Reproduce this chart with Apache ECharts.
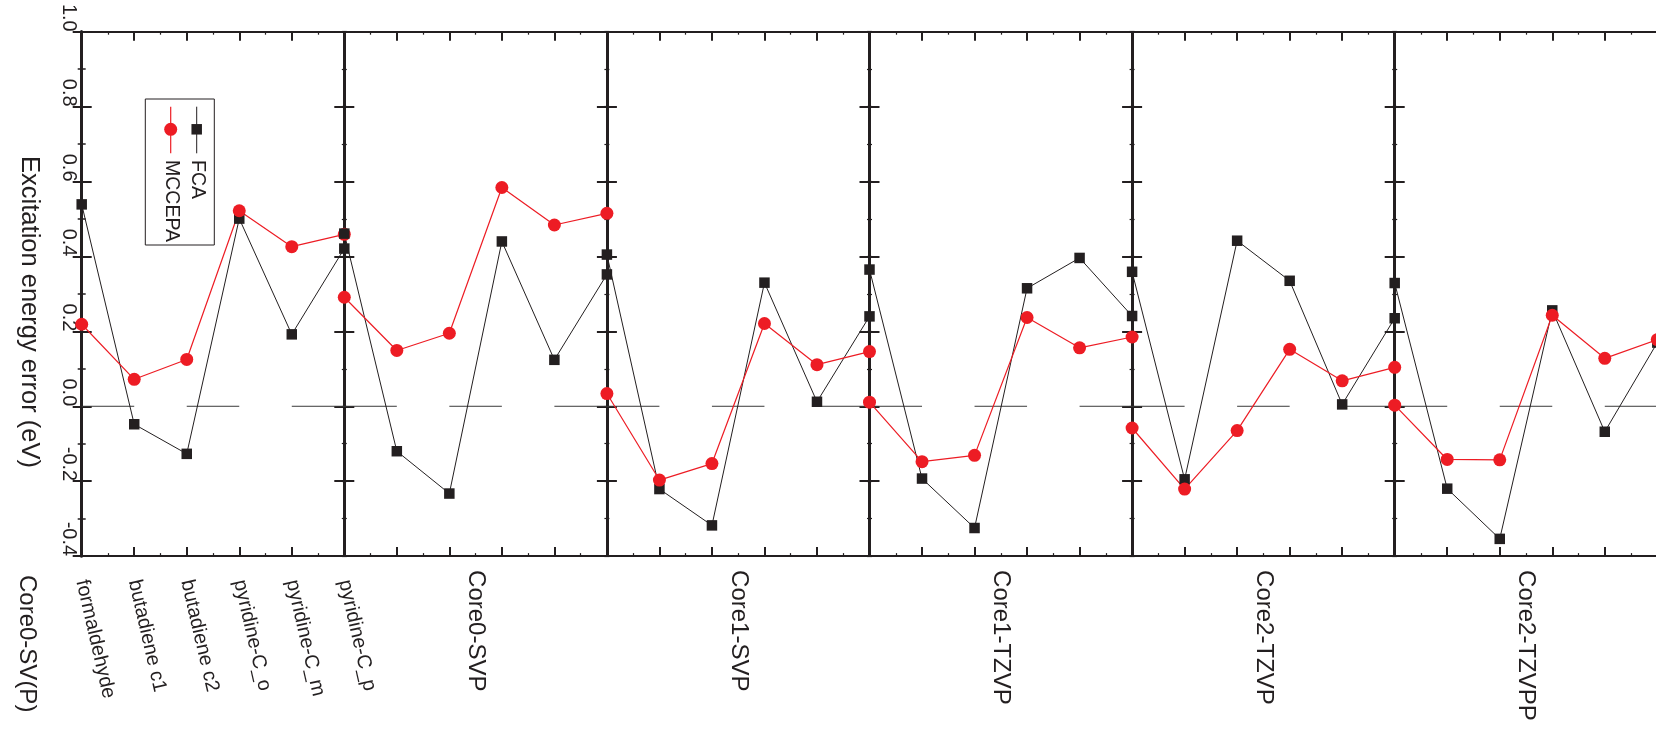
<!DOCTYPE html>
<html><head><meta charset="utf-8">
<script src="https://cdn.jsdelivr.net/npm/echarts@6/dist/echarts.min.js"></script>
<style>html,body{margin:0;padding:0;background:#fff}#c{width:1656px;height:736px}</style>
</head><body><div id="c"></div><script>
// ---------- data ----------
const molecules = ['formaldehyde', 'butadiene c1', 'butadiene c2', 'pyridine-C_o', 'pyridine-C_m', 'pyridine-C_p'];
const basisSets = ['Core0-SV(P)', 'Core0-SVP', 'Core1-SVP', 'Core1-TZVP', 'Core2-TZVP', 'Core2-TZVPP'];
const seriesNames = ['FCA', 'MCCEPA'];
const yTitle = 'Excitation energy error (eV)';

// FCA errors (eV), one array per basis set, ordered as molecules
const fcaCore0SVparP = [0.539, -0.048, -0.127, 0.501, 0.192, 0.421];
const fcaCore0SVP    = [0.461, -0.120, -0.233, 0.440, 0.124, 0.352];
const fcaCore1SVP    = [0.405, -0.221, -0.318, 0.330, 0.012, 0.240];
const fcaCore1TZVP   = [0.365, -0.193, -0.325, 0.315, 0.396, 0.241];
const fcaCore2TZVP   = [0.359, -0.195, 0.442, 0.335, 0.005, 0.235];
const fcaCore2TZVPP  = [0.329, -0.220, -0.354, 0.256, -0.068, 0.170];

// MCCEPA errors (eV)
const mccCore0SVparP = [0.219, 0.072, 0.125, 0.522, 0.426, 0.459];
const mccCore0SVP    = [0.291, 0.149, 0.195, 0.584, 0.484, 0.515];
const mccCore1SVP    = [0.034, -0.197, -0.153, 0.221, 0.111, 0.146];
const mccCore1TZVP   = [0.011, -0.148, -0.131, 0.237, 0.156, 0.185];
const mccCore2TZVP   = [-0.058, -0.221, -0.065, 0.152, 0.068, 0.104];
const mccCore2TZVPP  = [0.003, -0.142, -0.143, 0.243, 0.128, 0.178];

const fcaPanels = [fcaCore0SVparP, fcaCore0SVP, fcaCore1SVP, fcaCore1TZVP, fcaCore2TZVP, fcaCore2TZVPP];
const mccPanels = [mccCore0SVparP, mccCore0SVP, mccCore1SVP, mccCore1TZVP, mccCore2TZVP, mccCore2TZVPP];

// ---------- layout / style ----------
const GRID = {left: 81.7, top: 31.7, width: 1575.6, height: 524.4};
const NP = basisSets.length;
const NM = molecules.length - 1;          // intervals per panel
const XMAX = NP * NM;
const PANEL_W = GRID.width / NP;
const INK = '#231f20', RED = '#ed1c24', ZERO = '#3a3a3a';
const FONT = '"Liberation Sans", Arial, Helvetica, sans-serif';
const Y = {min: -0.4, max: 1.0, interval: 0.2};

const yAxes = [{
  type: 'value', position: 'left', min: Y.min, max: Y.max, interval: Y.interval,
  axisLine: {show: true, lineStyle: {color: INK, width: 3}},
  axisTick: {show: true, inside: true, length: 10, lineStyle: {color: INK, width: 2}},
  minorTick: {show: true, splitNumber: 2, length: 4, lineStyle: {color: INK, width: 1.5}},
  splitLine: {show: false},
  axisLabel: {show: true, rotate: -90, align: 'right', verticalAlign: 'middle', margin: 13,
    fontSize: 20, color: INK, fontFamily: FONT, formatter: v => v.toFixed(1)}
}, {
  type: 'value', position: 'right', min: Y.min, max: Y.max, interval: Y.interval,
  axisLine: {show: true, lineStyle: {color: INK, width: 3}},
  axisTick: {show: true, inside: true, length: 9, lineStyle: {color: INK, width: 2}},
  minorTick: {show: true, splitNumber: 2, length: 4, lineStyle: {color: INK, width: 1.5}},
  splitLine: {show: false}, axisLabel: {show: false}
}];
for (let p = 1; p < NP; p++) {
  yAxes.push({
    type: 'value', position: 'left', offset: 10 - p * PANEL_W, min: Y.min, max: Y.max, interval: Y.interval,
    axisLine: {show: false}, splitLine: {show: false}, axisLabel: {show: false},
    axisTick: {show: true, inside: true, length: 20, lineStyle: {color: INK, width: 2}}
  });
  yAxes.push({
    type: 'value', position: 'left', offset: 2.5 - p * PANEL_W, min: Y.min, max: Y.max, interval: Y.interval / 2,
    axisLine: {show: false}, splitLine: {show: false}, axisLabel: {show: false},
    axisTick: {show: true, inside: true, length: 5, lineStyle: {color: INK, width: 1.2}}
  });
}

const xBase = {type: 'value', min: 0, max: XMAX, splitLine: {show: false}};
const xAxes = [
  Object.assign({}, xBase, {
    position: 'bottom', interval: 1,
    axisLine: {show: true, onZero: false, lineStyle: {color: INK, width: 2}},
    axisTick: {show: true, inside: true, length: 9, lineStyle: {color: INK, width: 2}},
    minorTick: {show: true, splitNumber: 2, length: 3, lineStyle: {color: INK, width: 1.2}},
    axisLabel: {show: true, rotate: -77, align: 'left', verticalAlign: 'middle', margin: 24,
      fontSize: 20, color: INK, fontFamily: FONT,
      formatter: v => { const i = Math.round(v); return (i <= NM && Math.abs(v - i) < 1e-6) ? molecules[i] : ''; }}
  }),
  Object.assign({}, xBase, {
    position: 'bottom', interval: NM / 2,
    axisLine: {show: false, onZero: false}, axisTick: {show: false},
    axisLabel: {show: true, rotate: -90, align: 'left', verticalAlign: 'middle', margin: 14,
      fontSize: 24, color: INK, fontFamily: FONT,
      formatter: v => { const k = Math.round((v - NM / 2) / NM); return (k >= 1 && Math.abs(v - (NM * k + NM / 2)) < 1e-6) ? basisSets[k] : ''; }}
  }),
  Object.assign({}, xBase, {
    position: 'top', interval: 1,
    axisLine: {show: true, onZero: false, lineStyle: {color: INK, width: 2}},
    axisTick: {show: true, inside: true, length: 9, lineStyle: {color: INK, width: 2}},
    minorTick: {show: true, splitNumber: 2, length: 3, lineStyle: {color: INK, width: 1.2}},
    axisLabel: {show: false}
  }),
  Object.assign({}, xBase, {
    position: 'bottom', interval: NM,
    axisLine: {show: false, onZero: false}, axisTick: {show: false}, axisLabel: {show: false},
    splitLine: {show: true, lineStyle: {color: INK, width: 3}}
  })
];

// zero reference dashes (per panel: on, off, on, off, on)
const zeroData = [];
for (let p = 0; p < NP; p++) {
  for (const [a, b] of [[0, 1], [2, 3], [4, 5]]) {
    zeroData.push([NM * p + a, 0], [NM * p + b, 0], [NM * p + b, '-']);
  }
}

const series = [{
  type: 'line', name: 'zero', data: zeroData, symbol: 'none', silent: true, z: 1,
  lineStyle: {color: ZERO, width: 1}, connectNulls: false, animation: false
}];
for (let p = 0; p < NP; p++) {
  series.push({
    type: 'line', name: seriesNames[0], data: fcaPanels[p].map((v, k) => [NM * p + k, v]),
    symbol: 'rect', symbolSize: 10.5, itemStyle: {color: INK}, lineStyle: {color: INK, width: 1},
    clip: false, animation: false, z: 2
  });
  series.push({
    type: 'line', name: seriesNames[1], data: mccPanels[p].map((v, k) => [NM * p + k, v]),
    symbol: 'circle', symbolSize: 13, itemStyle: {color: RED}, lineStyle: {color: RED, width: 1.2},
    clip: false, animation: false, z: 2
  });
}

const vtext = (x, y, text, size, align) => ({
  type: 'text', x: x, y: y, rotation: -Math.PI / 2, silent: true,
  style: {text: text, fill: INK, font: size + 'px ' + FONT, align: align, textAlign: align,
    verticalAlign: 'middle', textVerticalAlign: 'middle'}
});

const graphic = [
  // legend
  {type: 'rect', shape: {x: 145.3, y: 99, width: 69, height: 146}, style: {fill: 'none', stroke: INK, lineWidth: 1}},
  {type: 'line', shape: {x1: 196.7, y1: 106.7, x2: 196.7, y2: 153.3}, style: {stroke: INK, lineWidth: 1}},
  {type: 'rect', shape: {x: 191.45, y: 124.05, width: 10.5, height: 10.5}, style: {fill: INK}},
  {type: 'line', shape: {x1: 170.7, y1: 106.7, x2: 170.7, y2: 153.3}, style: {stroke: RED, lineWidth: 1.2}},
  {type: 'circle', shape: {cx: 170.7, cy: 129.3, r: 6.5}, style: {fill: RED}},
  vtext(197, 160, seriesNames[0], 19.5, 'left'),
  vtext(171, 160, seriesNames[1], 19.5, 'left'),
  // axis title and first panel label
  vtext(29.5, 312, yTitle, 25.5, 'center'),
  vtext(26.5, 575, basisSets[0], 24, 'left')
];

const chart = echarts.init(document.getElementById('c'), null, {renderer: 'canvas'});
chart.setOption({
  backgroundColor: '#ffffff',
  animation: false,
  grid: Object.assign({containLabel: false, outerBoundsMode: 'none'}, GRID),
  xAxis: xAxes,
  yAxis: yAxes,
  series: series,
  graphic: graphic
});
</script></body></html>
